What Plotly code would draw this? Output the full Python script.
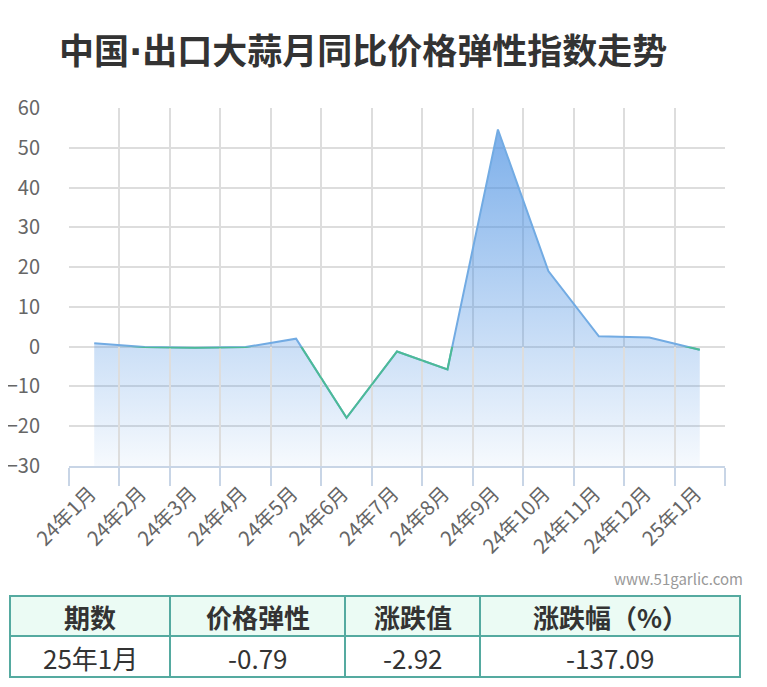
import plotly.graph_objects as go

months = ["24年1月", "24年2月", "24年3月", "24年4月", "24年5月", "24年6月", "24年7月",
          "24年8月", "24年9月", "24年10月", "24年11月", "24年12月", "25年1月"]
elasticity = [0.85, -0.1, -0.3, -0.1, 2.0, -17.9, -1.2, -5.7, 54.6, 19.0, 2.6, 2.3, -0.79]
y_ticks = [60, 50, 40, 30, 20, 10, 0, -10, -20, -30]

table_header = ["期数", "价格弹性", "涨跌值", "涨跌幅（%）"]
table_row = ["25年1月", "-0.79", "-2.92", "-137.09"]

FONT = "Noto Sans CJK SC"
OFF = 8  # page body margin
W, H = 767 - OFF, 687 - OFF
ymin, ymax = -30, 60


def fx(px):
    return (px - OFF) / W


def fy(py):
    return 1 - (py - OFF) / H


xd = [fx(69), fx(725)]
yd = [fy(466), fy(108)]
zero_frac = yd[0] + (0 - ymin) / (ymax - ymin) * (yd[1] - yd[0])

fig = go.Figure()

# baseline for fill
fig.add_trace(go.Scatter(x=months, y=[ymin] * len(months), mode="lines",
                         line=dict(width=0), hoverinfo="skip", showlegend=False))
fig.add_trace(go.Scatter(
    x=months, y=elasticity, mode="lines", fill="tonexty",
    line=dict(color="#72abe3", width=2),
    fillgradient=dict(type="vertical", start=ymin, stop=max(elasticity),
                      colorscale=[[0, "rgba(74,144,226,0.05)"], [1, "rgba(74,144,226,0.72)"]]),
    showlegend=False))
# negative portion of line (clipped to below-zero subplot)
fig.add_trace(go.Scatter(x=months, y=elasticity, mode="lines", xaxis="x", yaxis="y2",
                         line=dict(color="#4dbb96", width=2), showlegend=False))

# ---- table built from shapes + annotations ----
col_edges = [10, 170, 345, 480, 740]
row_edges = [596, 636, 677]
border = "#55aaa0"
shapes = [dict(type="rect", xref="paper", yref="paper",
               x0=fx(col_edges[0]), x1=fx(col_edges[-1]), y0=fy(row_edges[1]), y1=fy(row_edges[0]),
               fillcolor="#ebfbf4", line=dict(width=0), layer="below")]
for yy in row_edges:
    shapes.append(dict(type="line", xref="paper", yref="paper", x0=fx(col_edges[0]) - 1 / W,
                       x1=fx(col_edges[-1]) + 1 / W, y0=fy(yy), y1=fy(yy),
                       line=dict(color=border, width=2)))
for xx in col_edges:
    shapes.append(dict(type="line", xref="paper", yref="paper", x0=fx(xx), x1=fx(xx),
                       y0=fy(row_edges[-1]), y1=fy(row_edges[0]),
                       line=dict(color=border, width=2)))

annotations = [
    dict(text="<b>中国<span style=\"font-family:'DejaVu Sans'\">·</span>出口大蒜月同比价格弹性指数走势</b>",
         x=fx(57), y=fy(48), xref="paper", yref="paper", xanchor="left", yanchor="middle",
         showarrow=False, font=dict(family=FONT, size=35, color="#333333")),
    dict(text="www.51garlic.com", x=fx(745), y=fy(578), xref="paper", yref="paper",
         xanchor="right", yanchor="middle", showarrow=False,
         font=dict(family=FONT, size=15, color="#999999")),
]
for i in range(4):
    cx = (col_edges[i] + col_edges[i + 1]) / 2
    annotations.append(dict(text="<b>%s</b>" % table_header[i], x=fx(cx),
                            y=fy((row_edges[0] + row_edges[1]) / 2), xref="paper", yref="paper",
                            xanchor="center", yanchor="middle", showarrow=False,
                            font=dict(family=FONT, size=26, color="#333333")))
    annotations.append(dict(text=table_row[i], x=fx(cx),
                            y=fy((row_edges[1] + row_edges[2]) / 2 + 1), xref="paper", yref="paper",
                            xanchor="center", yanchor="middle", showarrow=False,
                            font=dict(family=FONT, size=26, color="#333333")))

fig.update_layout(
    width=W, height=H,
    margin=dict(l=0, r=0, t=0, b=0, autoexpand=False),
    paper_bgcolor="white", plot_bgcolor="rgba(0,0,0,0)",
    font=dict(family=FONT, color="#666666"),
    xaxis=dict(domain=xd, type="category", tickson="boundaries", showgrid=True,
               range=[-0.5, len(months) - 0.5],
               gridcolor="#dddddd", gridwidth=2, showline=True, linecolor="#c8d5e6",
               linewidth=2, ticks="outside", ticklen=18, tickcolor="#c8d5e6", tickwidth=2,
               tickangle=-45, ticklabelshift=-4, ticklabelstandoff=6,
               tickfont=dict(family=FONT, size=20, color="#666666"),
               anchor="y", automargin=False, fixedrange=True),
    yaxis=dict(domain=yd, range=[ymin, ymax], tickvals=y_ticks, showgrid=True,
               gridcolor="#dddddd", gridwidth=2, zeroline=False, showline=False,
               ticks="", ticklabelstandoff=28, automargin=False,
               tickfont=dict(family=FONT, size=20, color="#666666"), anchor="x"),
    yaxis2=dict(domain=[yd[0], zero_frac], range=[ymin, 0], visible=False,
                showgrid=False, zeroline=False, anchor="x", automargin=False),
    shapes=shapes,
    annotations=annotations,
)

fig.write_html("out.html")
